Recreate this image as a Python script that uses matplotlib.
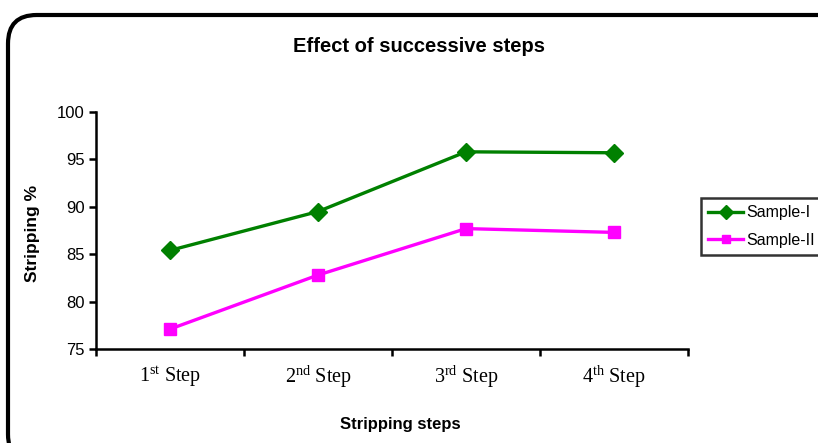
import matplotlib
matplotlib.use("Agg")
import matplotlib.pyplot as plt
from matplotlib.patches import FancyBboxPatch

plt.rcParams['mathtext.fontset'] = 'custom'
plt.rcParams['mathtext.rm'] = 'Liberation Serif'
plt.rcParams['mathtext.it'] = 'Liberation Serif:italic'
plt.rcParams['mathtext.bf'] = 'Liberation Serif:bold'

steps = ["1$^{\\rm st}$ Step", "2$^{\\rm nd}$ Step", "3$^{\\rm rd}$ Step", "4$^{\\rm th}$ Step"]
sample_1 = [85.4, 89.5, 95.8, 95.7]
sample_2 = [77.1, 82.8, 87.7, 87.3]
y_ticks = [75, 80, 85, 90, 95, 100]

fig = plt.figure(figsize=(8.18, 4.43), dpi=100)

# rounded outer frame around the chart area
frame = FancyBboxPatch((8 / 818, -20 / 443), 880 / 818, 448 / 443,
                       boxstyle="round,pad=0,rounding_size=0.035",
                       transform=fig.transFigure, fill=False,
                       edgecolor="black", linewidth=3, clip_on=False,
                       mutation_aspect=818 / 443)
fig.patches.append(frame)

ax = fig.add_axes([96 / 818, 1 - 349 / 443, 592 / 818, 237 / 443])
x = list(range(len(steps)))
l1, = ax.plot(x, sample_1, color="#008000", lw=2.4, marker="D", markersize=9,
              label="Sample-I")
l2, = ax.plot(x, sample_2, color="#FF00FF", lw=2.4, marker="s", markersize=8.5,
              label="Sample-II")

ax.set_xlim(-0.5, 3.5)
ax.set_ylim(75, 100)
ax.set_yticks(y_ticks)
ax.set_yticklabels([str(v) for v in y_ticks], fontfamily="Liberation Sans", fontsize=12)
ax.set_xticks(x)
ax.set_xticklabels(steps, fontfamily="Liberation Serif", fontsize=14.5)
ax.set_xticks([-0.5, 0.5, 1.5, 2.5, 3.5], minor=True)
ax.tick_params(axis="x", which="major", length=0, pad=11)
ax.tick_params(axis="x", which="minor", length=5, width=1.8, direction="out")
ax.tick_params(axis="y", which="major", length=5, width=1.8, direction="out", pad=3)

for side in ("top", "right"):
    ax.spines[side].set_visible(False)
for side in ("left", "bottom"):
    ax.spines[side].set_linewidth(1.8)

fig.text(419 / 818, 1 - 47 / 443, "Effect of successive steps", ha="center", va="center",
         fontfamily="Liberation Sans", fontweight="bold", fontsize=14.5)
fig.text(400 / 818, 1 - 424 / 443, "Stripping steps", ha="center", va="center",
         fontfamily="Liberation Sans", fontweight="bold", fontsize=12)
fig.text(33 / 818, 1 - 233 / 443, "Stripping %", ha="center", va="center", rotation=90,
         fontfamily="Liberation Sans", fontweight="bold", fontsize=12.5)

leg = fig.legend(handles=[l1, l2], loc="upper left",
                 bbox_to_anchor=(701 / 818, 1 - 198 / 443),
                 prop={"family": "Liberation Sans", "size": 11.5},
                 frameon=True, fancybox=False, borderpad=0.45,
                 handlelength=2.2, handletextpad=0.2, labelspacing=0.8,
                 borderaxespad=0, markerscale=0.75)
leg.get_frame().set_edgecolor("black")
leg.get_frame().set_linewidth(1.8)

fig.savefig("out.png", dpi=100)
